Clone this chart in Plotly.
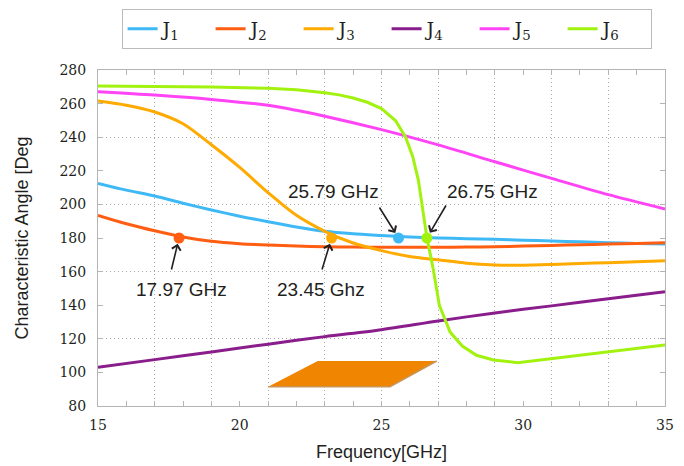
import plotly.graph_objects as go

# ---------------- data ----------------
FREQ = [15, 16, 17, 18, 19, 20, 21, 22, 23, 24, 25, 26, 27, 28, 29, 30, 31, 32, 33, 34, 35]

J1 = [212.5, 208.5, 205.0, 200.7, 196.7, 193.0, 189.7, 186.6, 184.0, 182.5, 181.5, 180.6, 180.0,
      179.6, 179.2, 178.7, 178.2, 177.7, 177.2, 176.8, 176.4]
J2 = [193.5, 188.5, 184.3, 180.6, 178.0, 176.6, 175.8, 175.2, 174.8, 174.6, 174.5, 174.5, 174.5,
      174.6, 174.8, 175.2, 175.6, 176.0, 176.4, 176.8, 177.2]

J3_FREQ = [15, 16, 17, 18, 19, 20, 21, 22, 23, 24, 25, 26, 27, 28, 29, 30, 31, 32, 33, 34, 35]
J3 = [261.5, 259.0, 255.0, 248.0, 235.5, 222.0, 207.0, 193.5, 184.0, 177.0, 172.5, 169.0, 167.0,
      165.0, 164.0, 163.8, 164.2, 164.8, 165.3, 165.9, 166.5]

J4_FREQ = [15, 17, 19, 21, 23, 25, 27, 29, 31, 33, 35]
J4 = [103.0, 107.6, 112.2, 116.8, 121.3, 125.4, 130.6, 135.4, 139.6, 143.8, 148.0]

J5_FREQ = [15, 17, 19, 21, 22, 23, 25, 27, 29, 31, 33, 35]
J5 = [267.1, 265.1, 262.5, 259.0, 256.0, 252.5, 244.5, 235.4, 225.4, 215.5, 205.8, 197.3]

J6_FREQ = [15, 17, 19, 21, 22, 23, 23.5, 24, 24.5, 25, 25.5, 25.85, 26.1, 26.3, 26.45, 26.6,
           26.83, 27.04, 27.42, 27.85, 28.35, 28.95, 29.8, 31, 33, 35]
J6 = [270.5, 270.3, 269.9, 269.1, 268.2, 266.5, 265.2, 263.3, 260.8, 257.0, 249.8, 240.0, 228.5,
      214.5, 196.0, 180.5, 161.0, 140.0, 124.0, 115.7, 110.2, 107.4, 105.8, 108.2, 112.2, 116.3]

SERIES_NAMES = ["J<sub>1</sub>", "J<sub>2</sub>", "J<sub>3</sub>", "J<sub>4</sub>", "J<sub>5</sub>", "J<sub>6</sub>"]
SERIES_COLORS = ["#3FB9F6", "#FF5E12", "#FFAA00", "#8A1D8C", "#FF44F5", "#A2F20F"]

# marked points (as drawn) and their labels
MARK_FREQ = [17.86, 23.24, 25.6, 26.6]
MARK_VAL = [180, 180, 180, 180]
MARK_COLORS = ["#FF5E12", "#FFAA00", "#3FB9F6", "#A2F20F"]
MARK_LABELS = ["17.97 GHz", "23.45 Ghz", "25.79 GHz", "26.75 GHz"]
LABEL_FREQ = [17.93, 22.87, 23.29, 28.9]
LABEL_VAL = [149.6, 149.6, 207.7, 207.4]
ARROW_AX = [-8, -10, -20, 20]
ARROW_AY = [33, 33, -32, -34]

# patch illustration (parallelogram) in data coordinates
PATCH_X = [21.0, 25.3, 26.95, 22.75]
PATCH_Y = [91.5, 91.5, 106.8, 106.8]

X_TICKS = [15, 20, 25, 30, 35]
Y_TICKS = [80, 100, 120, 140, 160, 180, 200, 220, 240, 260, 280]
X_GRID = [17, 19, 21, 23, 25, 27, 29, 31, 33]
Y_GRID = [120, 160, 200, 240]

# ---------------- figure ----------------
fig = go.Figure()

xs = [FREQ, FREQ, J3_FREQ, J4_FREQ, J5_FREQ, J6_FREQ]
ys = [J1, J2, J3, J4, J5, J6]
for name, color, xv, yv in zip(SERIES_NAMES, SERIES_COLORS, xs, ys):
    shape = "linear" if name.endswith("6</sub>") else "spline"
    fig.add_trace(go.Scatter(x=xv, y=yv, mode="lines", name=name,
                             line=dict(color=color, width=3, shape=shape, smoothing=0.8)))

fig.add_trace(go.Scatter(x=MARK_FREQ, y=MARK_VAL, mode="markers", showlegend=False,
                         marker=dict(color=MARK_COLORS, size=11, line=dict(width=0))))

# empty trace to hold the overlay grid axes
fig.add_trace(go.Scatter(x=[], y=[], xaxis="x2", yaxis="y2", showlegend=False, hoverinfo="skip"))

# patch shape
path = "M " + " L ".join(f"{x},{y}" for x, y in zip(PATCH_X, PATCH_Y)) + " Z"
fig.add_shape(type="path", path=path, xref="x", yref="y", fillcolor="#EF8500",
              line=dict(width=0), layer="above")
fig.add_shape(type="path",
              path=f"M {PATCH_X[0]},{PATCH_Y[0]} L {PATCH_X[1]},{PATCH_Y[1]} L {PATCH_X[2]},{PATCH_Y[2]}",
              xref="x", yref="y", line=dict(color="#C9955A", width=1.5), layer="above")

text_font = dict(family="Liberation Sans, Arial, sans-serif", size=19, color="#231F20")
for fx, fy, ax, ay in zip(MARK_FREQ, MARK_VAL, ARROW_AX, ARROW_AY):
    fig.add_annotation(x=fx, y=fy, xref="x", yref="y", text="", showarrow=True,
                       ax=ax, ay=ay, arrowhead=4, arrowsize=1.1, arrowwidth=1.6,
                       arrowcolor="#231F20", standoff=6)
for lx, ly, lab in zip(LABEL_FREQ, LABEL_VAL, MARK_LABELS):
    fig.add_annotation(x=lx, y=ly, xref="x", yref="y", text=lab, showarrow=False,
                       font=text_font)

tick_font = dict(family="DejaVu Serif, serif", size=14, color="#231F20")
axis_col = "#B4B4B4"
grid_col = "#A8A8A8"

fig.update_layout(
    width=684, height=466,
    margin=dict(l=98, r=19, t=70, b=60, autoexpand=False),
    paper_bgcolor="white", plot_bgcolor="white",
    showlegend=True,
    legend=dict(orientation="h", x=0.509, xanchor="center", y=1.1815, yanchor="top",
                bordercolor="#BBBBBB", borderwidth=1, bgcolor="white",
                font=dict(family="DejaVu Serif, serif", size=19, color="#231F20"),
                entrywidth=43, entrywidthmode="pixels", tracegroupgap=0),
    xaxis=dict(range=[15, 35], tickmode="array", tickvals=X_TICKS,
               ticks="inside", ticklen=5, tickcolor=axis_col, showgrid=False, zeroline=False,
               showline=True, linecolor=axis_col, linewidth=1, mirror="ticks",
               tickfont=tick_font, ticklabelstandoff=6, automargin=False,
               minor=dict(dtick=1, tick0=15, ticks="inside", ticklen=5, tickcolor=axis_col,
                          showgrid=False),
               title=dict(text="Frequency[GHz]", standoff=13,
                          font=dict(family="Liberation Sans, Arial, sans-serif", size=18,
                                    color="#231F20"))),
    yaxis=dict(range=[80, 280], tickmode="array", tickvals=Y_TICKS,
               ticks="inside", ticklen=5, tickcolor=axis_col, showgrid=False, zeroline=False,
               showline=True, linecolor=axis_col, linewidth=1, mirror="ticks",
               tickfont=tick_font, ticklabelstandoff=8, automargin=False,
               title=dict(text="Characteristic Angle [Deg", standoff=26,
                          font=dict(family="Liberation Sans, Arial, sans-serif", size=18,
                                    color="#231F20"))),
    xaxis2=dict(overlaying="x", range=[15, 35], tickmode="array", tickvals=X_GRID,
                showgrid=True, gridcolor=grid_col, griddash="1px,3px", gridwidth=1,
                showticklabels=False, ticks="", showline=False, zeroline=False),
    yaxis2=dict(overlaying="y", range=[80, 280], tickmode="array", tickvals=Y_GRID,
                showgrid=True, gridcolor=grid_col, griddash="1px,3px", gridwidth=1,
                showticklabels=False, ticks="", showline=False, zeroline=False),
)

fig.write_html("out.html", config={"displayModeBar": False},
               post_script="document.body.style.margin='0px';")
